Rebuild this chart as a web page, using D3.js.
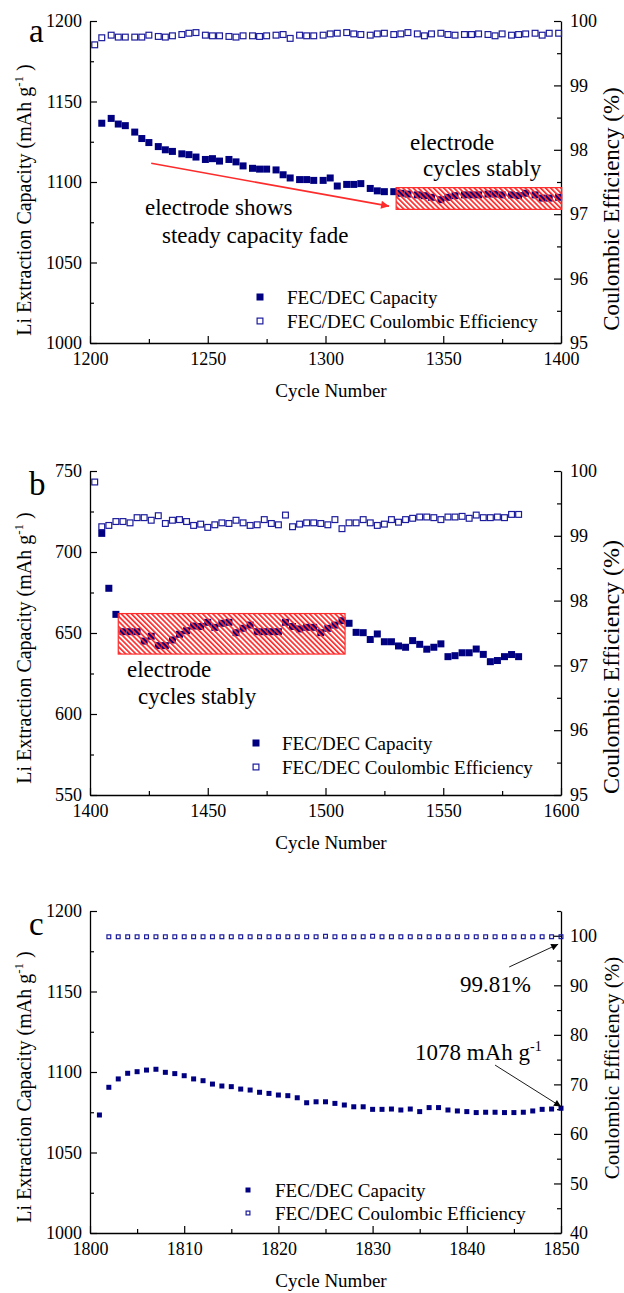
<!DOCTYPE html>
<html>
<head>
<meta charset="utf-8">
<script src="https://cdn.jsdelivr.net/npm/d3@7/dist/d3.min.js"></script>
<style>
body { margin: 0; background: #fff; }
svg text { font-family: "Liberation Serif", "Times New Roman", Times, serif !important; fill: #000; }
</style>
</head>
<body>
<svg id="chart" width="624" height="1293" font-family="Liberation Serif, Times New Roman, serif"></svg>
<script>
// ---- panel a data ----
var cyclesA = [1202, 1205, 1209, 1212, 1215, 1219, 1222, 1225, 1229, 1232, 1235, 1239, 1242, 1245, 1249, 1252, 1255, 1259, 1262, 1265,
  1269, 1272, 1275, 1279, 1282, 1285, 1289, 1292, 1295, 1299, 1302, 1305, 1309, 1312, 1315, 1319, 1322, 1325, 1329, 1332,
  1335, 1339, 1342, 1345, 1349, 1352, 1355, 1359, 1362, 1365, 1369, 1372, 1375, 1379, 1382, 1385, 1389, 1392, 1395, 1399];
var capA = [null, 1136.5, 1139.5, 1136, 1135, 1131, 1127, 1124.5, 1122, 1120, 1119, 1117.5, 1117, 1115.5, 1114, 1114.5, 1113, 1114, 1112.5, 1110,
  1108.5, 1108, 1108, 1107.5, 1104.5, 1102.5, 1101.5, 1101.5, 1101, 1101, 1102.5, 1097.5, 1098.5, 1098.5, 1099, 1096, 1094.5, 1094, 1094, 1093,
  1092.5, 1092, 1091.5, 1090.5, 1089, 1090.5, 1091.5, 1092, 1092, 1092, 1092.5, 1092.5, 1092, 1092, 1091.5, 1093, 1092, 1090, 1090, 1090.5];
var ceA = [99.63, 99.74, 99.78, 99.75, 99.75, 99.75, 99.75, 99.78, 99.76, 99.75, 99.77, 99.79, 99.81, 99.82, 99.78, 99.77, 99.77, 99.76, 99.75, 99.77,
  99.77, 99.76, 99.77, 99.78, 99.79, 99.73, 99.78, 99.77, 99.77, 99.78, 99.80, 99.81, 99.82, 99.80, 99.79, 99.78, 99.80, 99.81, 99.79, 99.80,
  99.82, 99.80, 99.77, 99.80, 99.81, 99.79, 99.78, 99.79, 99.79, 99.80, 99.79, 99.77, 99.80, 99.78, 99.79, 99.80, 99.81, 99.78, 99.81, 99.81];

// ---- panel b data ----
var cyclesB = [1402, 1405, 1408, 1411, 1414, 1417, 1420, 1423, 1426, 1429, 1432, 1435, 1438, 1441, 1444, 1447, 1450, 1453, 1456, 1459,
  1462, 1465, 1468, 1471, 1474, 1477, 1480, 1483, 1486, 1489, 1492, 1495, 1498, 1501, 1504, 1507, 1510, 1513, 1516, 1519,
  1522, 1525, 1528, 1531, 1534, 1537, 1540, 1543, 1546, 1549, 1552, 1555, 1558, 1561, 1564, 1567, 1570, 1573, 1576, 1579, 1582];
var capB = [null, 711.5, 677.6, 661.5, 650.8, 650.8, 650.8, 645, 648, 642.2, 642.2, 645.7, 649.2, 651.4, 654.3, 654, 656.6, 653.5, 656, 656.6,
  650.2, 652.9, 654.9, 650.8, 650.8, 650.8, 650.8, 656.6, 654, 652.5, 653.5, 653.5, 650.2, 652.9, 654.9, 657.6, 656, 650.4, 650.2, 646,
  649.4, 644.6, 644.6, 642, 641.2, 645.3, 643, 640, 641.2, 643.3, 635.4, 636, 637.8, 637.8, 640.1, 636.8, 632.3, 633, 635.4, 636.7, 635.4];
var ceB = [99.83, 99.14, 99.16, 99.22, 99.22, 99.2, 99.28, 99.28, 99.24, 99.31, 99.19, 99.24, 99.25, 99.22, 99.16, 99.18, 99.13, 99.17, 99.2, 99.19,
  99.24, 99.2, 99.16, 99.17, 99.25, 99.19, 99.17, 99.32, 99.14, 99.18, 99.2, 99.2, 99.19, 99.17, 99.25, 99.11, 99.2, 99.2, 99.25, 99.2,
  99.16, 99.18, 99.25, 99.21, 99.25, 99.27, 99.29, 99.29, 99.28, 99.25, 99.29, 99.29, 99.3, 99.27, 99.32, 99.28, 99.28, 99.29, 99.28, 99.33, 99.33];

// ---- panel c data ----
var cyclesC = [1801, 1802, 1803, 1804, 1805, 1806, 1807, 1808, 1809, 1810, 1811, 1812, 1813, 1814, 1815, 1816, 1817, 1818, 1819, 1820,
  1821, 1822, 1823, 1824, 1825, 1826, 1827, 1828, 1829, 1830, 1831, 1832, 1833, 1834, 1835, 1836, 1837, 1838, 1839, 1840,
  1841, 1842, 1843, 1844, 1845, 1846, 1847, 1848, 1849, 1850];
var capC = [1073.3, 1090.5, 1095.7, 1099.2, 1100.2, 1101.2, 1101.7, 1099.8, 1099, 1097.7, 1095.7, 1094.6, 1092.5, 1091.3, 1090.9, 1089.4, 1088.8, 1087.4, 1086.7, 1085.7,
  1085.3, 1084, 1080.9, 1081.5, 1081.5, 1080.5, 1079.5, 1078.4, 1078.4, 1076.8, 1076.8, 1077, 1076.4, 1077, 1075.4, 1077.9, 1077.9, 1076.4, 1075.8, 1075.4,
  1074.8, 1075, 1075, 1074.8, 1074.8, 1075, 1075.8, 1076.8, 1077, 1077.5];
var ceC = [null, 99.8, 99.8, 99.8, 99.8, 99.8, 99.8, 99.8, 99.8, 99.8, 99.8, 99.8, 99.8, 99.8, 99.8, 99.8, 99.8, 99.8, 99.8, 99.8,
  99.8, 99.8, 99.8, 99.8, 99.9, 99.8, 99.8, 99.8, 99.8, 99.9, 99.8, 99.8, 99.8, 99.8, 99.8, 99.8, 99.8, 99.8, 99.8, 99.8,
  99.8, 99.8, 99.8, 99.8, 99.8, 99.8, 99.8, 99.8, 99.8, 99.81];

// ---- ticks ----
var xTicksA = [1200, 1250, 1300, 1350, 1400], xMinorA = [1225, 1275, 1325, 1375];
var xTicksB = [1400, 1450, 1500, 1550, 1600], xMinorB = [1425, 1475, 1525, 1575];
var xTicksC = [1800, 1810, 1820, 1830, 1840, 1850], xMinorC = [1805, 1815, 1825, 1835, 1845];
var capTicksA = [1000, 1050, 1100, 1150, 1200], capMinorA = [1025, 1075, 1125, 1175];
var capTicksB = [550, 600, 650, 700, 750], capMinorB = [575, 625, 675, 725];
var ceTicksAB = [95, 96, 97, 98, 99, 100], ceMinorAB = [95.5, 96.5, 97.5, 98.5, 99.5];
var ceTicksC = [40, 50, 60, 70, 80, 90, 100], ceMinorC = [45, 55, 65, 75, 85, 95, 105];

var legendNames = ["FEC/DEC Capacity", "FEC/DEC Coulombic Efficiency"];

var SERIF = "'Liberation Serif', 'Times New Roman', serif";
var navy = "#000080", openBlue = "#1c1c9c", red = "#ff2b2b";
var svg = d3.select("#chart");
svg.append("rect").attr("width", 624).attr("height", 1293).attr("fill", "#fff");

var defs = svg.append("defs");
var pat = defs.append("pattern").attr("id", "hatch").attr("patternUnits", "userSpaceOnUse")
  .attr("width", 3.6).attr("height", 3.6).attr("patternTransform", "rotate(-45)");
pat.append("rect").attr("width", 1.7).attr("height", 3.6).attr("fill", red);
function arrowMarker(id, color, w, h) {
  defs.append("marker").attr("id", id).attr("viewBox", "0 0 10 10").attr("refX", 10).attr("refY", 5)
    .attr("markerUnits", "userSpaceOnUse").attr("markerWidth", w).attr("markerHeight", h).attr("orient", "auto")
    .append("path").attr("d", "M0,0L10,5L0,10z").attr("fill", color);
}
arrowMarker("arrRed", red, 12, 8);
arrowMarker("arrBlack", "#000", 10, 7);

var L = 90, R = 561;

function drawPanel(o) {
  var x = d3.scaleLinear().domain(o.xDomain).range([L, R]);
  var yL = d3.scaleLinear().domain(o.capDomain).range([o.bottom, o.top]);
  var yR = d3.scaleLinear().domain(o.ceDomain).range([o.bottom, o.top]);
  var g = svg.append("g");

  // axes
  var ax = g.append("g").attr("transform", "translate(0," + o.bottom + ")")
    .call(d3.axisBottom(x).tickValues(o.xTicks).tickFormat(d3.format("d")).tickSizeInner(-7).tickSizeOuter(0).tickPadding(9));
  ax.append("g").call(d3.axisBottom(x).tickValues(o.xMinor).tickFormat("").tickSizeInner(-4).tickSizeOuter(0))
    .select(".domain").remove();
  var al = g.append("g").attr("transform", "translate(" + L + ",0)")
    .call(d3.axisLeft(yL).tickValues(o.capTicks).tickFormat(d3.format("d")).tickSizeInner(-7).tickSizeOuter(0).tickPadding(8));
  al.append("g").call(d3.axisLeft(yL).tickValues(o.capMinor).tickFormat("").tickSizeInner(-4).tickSizeOuter(0))
    .select(".domain").remove();
  var ar = g.append("g").attr("transform", "translate(" + R + ",0)")
    .call(d3.axisRight(yR).tickValues(o.ceTicks).tickFormat(d3.format("d")).tickSizeInner(-7).tickSizeOuter(0).tickPadding(9));
  ar.append("g").call(d3.axisRight(yR).tickValues(o.ceMinor).tickFormat("").tickSizeInner(-4).tickSizeOuter(0))
    .select(".domain").remove();
  g.selectAll("g").attr("font-family", SERIF);
  g.selectAll(".domain").attr("stroke", "#000").attr("stroke-width", 1.3);
  g.selectAll(".tick line").attr("stroke", "#000").attr("stroke-width", 1.2);
  g.selectAll(".tick text").style("font-family", SERIF).style("font-size", "18px").attr("fill", "#000");

  // capacity (filled) and CE (open) squares
  var s = o.size;
  var capPts = o.cycles.map(function(c, i) { return { c: c, v: o.cap[i] }; }).filter(function(d) { return d.v != null; });
  var cePts = o.cycles.map(function(c, i) { return { c: c, v: o.ce[i] }; }).filter(function(d) { return d.v != null; });
  g.append("g").selectAll("rect").data(capPts).enter().append("rect")
    .attr("x", function(d) { return x(d.c) - s / 2; }).attr("y", function(d) { return yL(d.v) - s / 2; })
    .attr("width", s).attr("height", s).attr("fill", navy);
  g.append("g").selectAll("rect").data(cePts).enter().append("rect")
    .attr("x", function(d) { return x(d.c) - s / 2 + 0.6; }).attr("y", function(d) { return yR(d.v) - s / 2 + 0.6; })
    .attr("width", s - 1.2).attr("height", s - 1.2).attr("fill", "none").attr("stroke", openBlue).attr("stroke-width", 1.2);

  // hatched box
  if (o.box) {
    g.append("rect").attr("x", x(o.box[0])).attr("y", yL(o.box[3]))
      .attr("width", x(o.box[1]) - x(o.box[0])).attr("height", yL(o.box[2]) - yL(o.box[3]))
      .attr("fill", "url(#hatch)").attr("stroke", red).attr("stroke-width", 1.2);
  }
  (o.arrows || []).forEach(function(a) {
    var sy = a.axis === "ce" ? yR : yL;
    g.append("line").attr("x1", x(a.from[0])).attr("y1", sy(a.from[1])).attr("x2", x(a.to[0])).attr("y2", sy(a.to[1]))
      .attr("stroke", a.color).attr("stroke-width", a.w).attr("marker-end", "url(#" + a.marker + ")");
  });
  (o.notes || []).forEach(function(n) {
    var t = g.append("text").attr("x", n.x).attr("y", n.y).style("font-family", SERIF).style("font-size", "23px").text(n.t);
    if (n.sup) {
      t.append("tspan").attr("dy", -9).style("font-size", "14px").text(n.sup);
    }
  });

  // legend
  var lg = g.append("g");
  lg.append("rect").attr("x", o.leg[0] - s / 2).attr("y", o.leg[1] - s / 2).attr("width", s).attr("height", s).attr("fill", navy);
  lg.append("rect").attr("x", o.leg[0] - s / 2 + 0.6).attr("y", o.leg[1] + o.legGap - s / 2 + 0.6)
    .attr("width", s - 1.2).attr("height", s - 1.2).attr("fill", "none").attr("stroke", openBlue).attr("stroke-width", 1.2);
  legendNames.forEach(function(nm, i) {
    lg.append("text").attr("x", o.leg[2]).attr("y", o.leg[1] + i * o.legGap + 6.5)
      .style("font-family", SERIF).style("font-size", "19px").text(nm);
  });

  // titles
  g.append("text").attr("x", 331).attr("y", o.bottom + 54).attr("text-anchor", "middle")
    .style("font-family", SERIF).style("font-size", "19px").text("Cycle Number");
  var lt = g.append("text").attr("transform", "translate(31," + o.lTitleY + ") rotate(-90)")
    .attr("text-anchor", "middle").style("font-family", SERIF).style("font-size", "20px").text("Li Extraction Capacity (mAh g");
  lt.append("tspan").attr("dy", -8).style("font-size", "13px").text("-1");
  lt.append("tspan").attr("dy", 8).text(" )");
  g.append("text").attr("transform", "translate(619," + o.rTitleY + ") rotate(-90)")
    .attr("text-anchor", "middle").style("font-family", SERIF).style("font-size", o.rTitleSize + "px").text("Coulombic Efficiency (%)");
  g.append("text").attr("x", 29).attr("y", o.letterY).style("font-family", SERIF).style("font-size", "33px").text(o.letter);
}

drawPanel({
  letter: "a", letterY: 42, top: 21, bottom: 343, size: 7,
  xDomain: [1200, 1400], capDomain: [1000, 1200], ceDomain: [95, 100],
  xTicks: xTicksA, xMinor: xMinorA, capTicks: capTicksA, capMinor: capMinorA, ceTicks: ceTicksAB, ceMinor: ceMinorAB,
  cycles: cyclesA, cap: capA, ce: ceA,
  box: [1330, 1400.3, 1083, 1096.5],
  arrows: [{ from: [1226, 1111.6], to: [1327, 1085], color: red, w: 1.6, marker: "arrRed", axis: "cap" }],
  notes: [{ x: 410, y: 150, t: "electrode" }, { x: 423, y: 176, t: "cycles stably" },
          { x: 145, y: 215, t: "electrode shows" }, { x: 162, y: 243, t: "steady capacity fade" }],
  leg: [260, 297, 287], legGap: 24,
  lTitleY: 200, rTitleY: 209, rTitleSize: 23
});

drawPanel({
  letter: "b", letterY: 495, top: 471, bottom: 795, size: 7,
  xDomain: [1400, 1600], capDomain: [550, 750], ceDomain: [95, 100],
  xTicks: xTicksB, xMinor: xMinorB, capTicks: capTicksB, capMinor: capMinorB, ceTicks: ceTicksAB, ceMinor: ceMinorAB,
  cycles: cyclesB, cap: capB, ce: ceB,
  box: [1412, 1508.3, 637, 662],
  notes: [{ x: 127, y: 677, t: "electrode" }, { x: 138, y: 704, t: "cycles stably" }],
  leg: [256, 743, 282], legGap: 24,
  lTitleY: 648, rTitleY: 667, rTitleSize: 24
});

drawPanel({
  letter: "c", letterY: 935, top: 911, bottom: 1233, size: 5,
  xDomain: [1800, 1850], capDomain: [1000, 1200], ceDomain: [40, 105],
  xTicks: xTicksC, xMinor: xMinorC, capTicks: capTicksA, capMinor: capMinorA, ceTicks: ceTicksC, ceMinor: ceMinorC,
  cycles: cyclesC, cap: capC, ce: ceC,
  arrows: [{ from: [1844.5, 93.7], to: [1849.7, 98.3], color: "#000", w: 0.9, marker: "arrBlack", axis: "ce" },
           { from: [1843, 1104.3], to: [1850, 1078.5], color: "#000", w: 0.9, marker: "arrBlack", axis: "cap" }],
  notes: [{ x: 460, y: 992, t: "99.81%" }, { x: 415, y: 1060, t: "1078 mAh g", sup: "-1" }],
  leg: [248, 1190, 275], legGap: 23,
  lTitleY: 1087, rTitleY: 1068, rTitleSize: 21
});
</script>
</body>
</html>
